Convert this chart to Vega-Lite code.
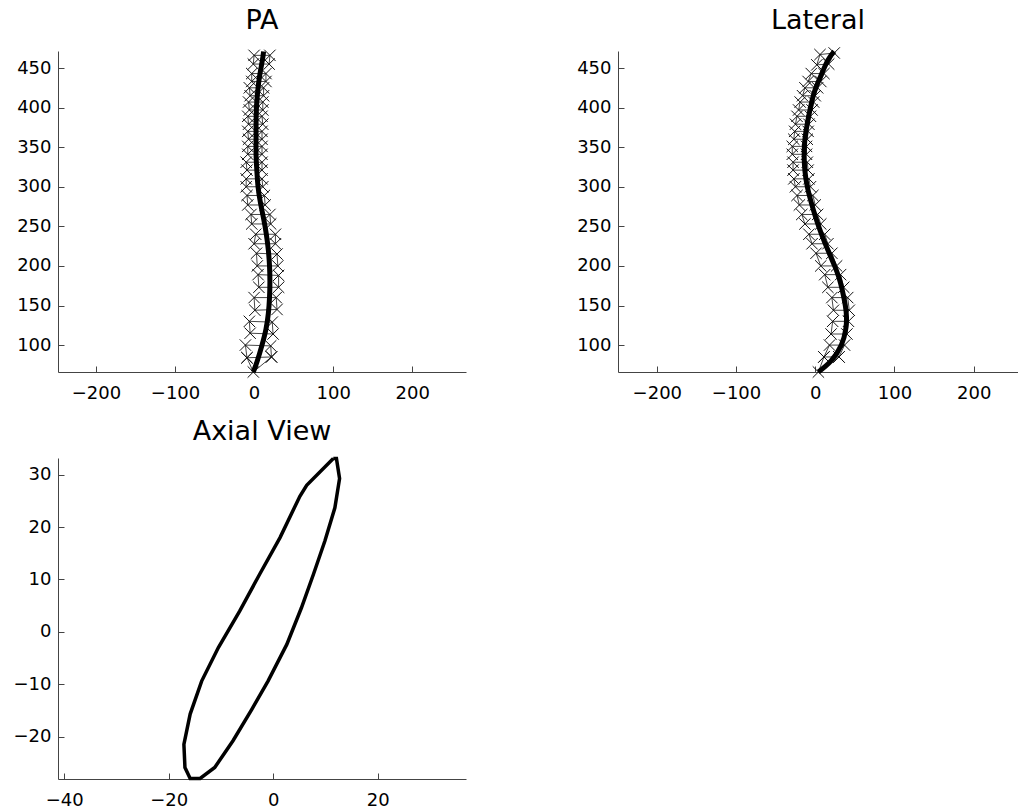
{
  "$schema": "https://vega.github.io/schema/vega-lite/v6.json",
  "background": "white",
  "padding": {"left": 13, "top": 7, "right": 0, "bottom": 0},
  "config": {
    "view": {"stroke": null},
    "font": "DejaVu Sans",
    "axis": {"grid": false, "domainColor": "#444444", "tickColor": "#444444", "tickSize": -6, "labelFont": "DejaVu Sans", "labelFontSize": 18, "labelColor": "black"},
    "axisX": {"labelPadding": 18},
    "axisY": {"labelPadding": 13},
    "title": {"font": "DejaVu Sans", "fontSize": 27, "fontWeight": "normal", "color": "black", "offset": 6}
  },
  "datasets": {
    "pa_curve": [
      {"y": 66, "x": -1}, {"y": 80, "x": 4}, {"y": 100, "x": 10}, {"y": 120, "x": 15}, {"y": 140, "x": 18}, {"y": 160, "x": 19.5}, {"y": 180, "x": 20}, {"y": 200, "x": 19.5}, {"y": 220, "x": 18}, {"y": 240, "x": 15.5}, {"y": 260, "x": 12}, {"y": 280, "x": 8}, {"y": 300, "x": 5}, {"y": 320, "x": 3.5}, {"y": 340, "x": 2.5}, {"y": 360, "x": 2.5}, {"y": 380, "x": 2.5}, {"y": 400, "x": 3}, {"y": 420, "x": 4.5}, {"y": 440, "x": 7}, {"y": 460, "x": 10.5}, {"y": 471, "x": 12}
    ],
    "lat_curve": [
      {"y": 66, "x": 4}, {"y": 80, "x": 20}, {"y": 100, "x": 33}, {"y": 120, "x": 38.5}, {"y": 135, "x": 39.5}, {"y": 150, "x": 38}, {"y": 170, "x": 34}, {"y": 185, "x": 30}, {"y": 200, "x": 24.5}, {"y": 220, "x": 16}, {"y": 240, "x": 8}, {"y": 260, "x": 1}, {"y": 280, "x": -5}, {"y": 300, "x": -10}, {"y": 320, "x": -13}, {"y": 340, "x": -14}, {"y": 360, "x": -13}, {"y": 380, "x": -10}, {"y": 400, "x": -6}, {"y": 420, "x": -1}, {"y": 440, "x": 7}, {"y": 460, "x": 16}, {"y": 471, "x": 24}
    ],
    "pa_pts": [
      {"v": 0, "k": 1, "x": -9, "y": 84}, {"v": 0, "k": 2, "x": -1, "y": 66}, {"v": 0, "k": 3, "x": 22, "y": 85},
      {"v": 1, "k": 1, "x": -11, "y": 100}, {"v": 1, "k": 2, "x": 21, "y": 99}, {"v": 1, "k": 3, "x": 22, "y": 85}, {"v": 1, "k": 4, "x": -9, "y": 84}, {"v": 1, "k": 5, "x": -11, "y": 100},
      {"v": 2, "k": 1, "x": -6, "y": 130}, {"v": 2, "k": 2, "x": 23, "y": 129}, {"v": 2, "k": 3, "x": 24, "y": 114}, {"v": 2, "k": 4, "x": -5, "y": 115}, {"v": 2, "k": 5, "x": -6, "y": 130},
      {"v": 3, "k": 1, "x": 0, "y": 160}, {"v": 3, "k": 2, "x": 28, "y": 160}, {"v": 3, "k": 3, "x": 29, "y": 145}, {"v": 3, "k": 4, "x": 1, "y": 144}, {"v": 3, "k": 5, "x": 0, "y": 160},
      {"v": 4, "k": 1, "x": 5, "y": 189}, {"v": 4, "k": 2, "x": 31, "y": 188}, {"v": 4, "k": 3, "x": 31, "y": 173}, {"v": 4, "k": 4, "x": 6, "y": 173}, {"v": 4, "k": 5, "x": 5, "y": 189},
      {"v": 5, "k": 1, "x": 3, "y": 216}, {"v": 5, "k": 2, "x": 29, "y": 215}, {"v": 5, "k": 3, "x": 30, "y": 200}, {"v": 5, "k": 4, "x": 4, "y": 200}, {"v": 5, "k": 5, "x": 3, "y": 216},
      {"v": 6, "k": 1, "x": 2, "y": 240}, {"v": 6, "k": 2, "x": 27, "y": 240}, {"v": 6, "k": 3, "x": 27, "y": 228}, {"v": 6, "k": 4, "x": 0, "y": 228}, {"v": 6, "k": 5, "x": 2, "y": 240},
      {"v": 7, "k": 1, "x": -4, "y": 265}, {"v": 7, "k": 2, "x": 20, "y": 265}, {"v": 7, "k": 3, "x": 21, "y": 253}, {"v": 7, "k": 4, "x": -3, "y": 253}, {"v": 7, "k": 5, "x": -4, "y": 265},
      {"v": 8, "k": 1, "x": -9, "y": 289}, {"v": 8, "k": 2, "x": 13, "y": 289}, {"v": 8, "k": 3, "x": 14, "y": 277}, {"v": 8, "k": 4, "x": -8, "y": 277}, {"v": 8, "k": 5, "x": -9, "y": 289},
      {"v": 9, "k": 1, "x": -10, "y": 310}, {"v": 9, "k": 2, "x": 10, "y": 310}, {"v": 9, "k": 3, "x": 11, "y": 300}, {"v": 9, "k": 4, "x": -10, "y": 300}, {"v": 9, "k": 5, "x": -10, "y": 310},
      {"v": 10, "k": 1, "x": -10, "y": 331}, {"v": 10, "k": 2, "x": 10, "y": 331}, {"v": 10, "k": 3, "x": 10, "y": 321}, {"v": 10, "k": 4, "x": -9, "y": 321}, {"v": 10, "k": 5, "x": -10, "y": 331},
      {"v": 11, "k": 1, "x": -8, "y": 351}, {"v": 11, "k": 2, "x": 10, "y": 351}, {"v": 11, "k": 3, "x": 10, "y": 341}, {"v": 11, "k": 4, "x": -8, "y": 341}, {"v": 11, "k": 5, "x": -8, "y": 351},
      {"v": 12, "k": 1, "x": -8, "y": 370}, {"v": 12, "k": 2, "x": 10, "y": 370}, {"v": 12, "k": 3, "x": 10, "y": 360}, {"v": 12, "k": 4, "x": -7, "y": 360}, {"v": 12, "k": 5, "x": -8, "y": 370},
      {"v": 13, "k": 1, "x": -8, "y": 389}, {"v": 13, "k": 2, "x": 10, "y": 389}, {"v": 13, "k": 3, "x": 11, "y": 379}, {"v": 13, "k": 4, "x": -7, "y": 379}, {"v": 13, "k": 5, "x": -8, "y": 389},
      {"v": 14, "k": 1, "x": -7, "y": 407}, {"v": 14, "k": 2, "x": 11, "y": 407}, {"v": 14, "k": 3, "x": 11, "y": 397}, {"v": 14, "k": 4, "x": -6, "y": 397}, {"v": 14, "k": 5, "x": -7, "y": 407},
      {"v": 15, "k": 1, "x": -6, "y": 425}, {"v": 15, "k": 2, "x": 12, "y": 425}, {"v": 15, "k": 3, "x": 12, "y": 415}, {"v": 15, "k": 4, "x": -5, "y": 415}, {"v": 15, "k": 5, "x": -6, "y": 425},
      {"v": 16, "k": 1, "x": -3, "y": 443}, {"v": 16, "k": 2, "x": 15, "y": 443}, {"v": 16, "k": 3, "x": 15, "y": 433}, {"v": 16, "k": 4, "x": -3, "y": 433}, {"v": 16, "k": 5, "x": -3, "y": 443},
      {"v": 17, "k": 1, "x": 0, "y": 466}, {"v": 17, "k": 2, "x": 20, "y": 466}, {"v": 17, "k": 3, "x": 19, "y": 455}, {"v": 17, "k": 4, "x": -1, "y": 455}, {"v": 17, "k": 5, "x": 0, "y": 466}
    ],
    "lat_pts": [
      {"v": 0, "k": 1, "x": 11, "y": 85}, {"v": 0, "k": 2, "x": 4, "y": 66}, {"v": 0, "k": 3, "x": 30, "y": 85},
      {"v": 1, "k": 1, "x": 18, "y": 100}, {"v": 1, "k": 2, "x": 37, "y": 100}, {"v": 1, "k": 3, "x": 30, "y": 85}, {"v": 1, "k": 4, "x": 11, "y": 85}, {"v": 1, "k": 5, "x": 18, "y": 100},
      {"v": 2, "k": 1, "x": 22, "y": 130}, {"v": 2, "k": 2, "x": 42, "y": 130}, {"v": 2, "k": 3, "x": 40, "y": 114}, {"v": 2, "k": 4, "x": 20, "y": 114}, {"v": 2, "k": 5, "x": 22, "y": 130},
      {"v": 3, "k": 1, "x": 21, "y": 160}, {"v": 3, "k": 2, "x": 41, "y": 160}, {"v": 3, "k": 3, "x": 43, "y": 144}, {"v": 3, "k": 4, "x": 23, "y": 144}, {"v": 3, "k": 5, "x": 21, "y": 160},
      {"v": 4, "k": 1, "x": 12, "y": 189}, {"v": 4, "k": 2, "x": 32, "y": 189}, {"v": 4, "k": 3, "x": 36, "y": 173}, {"v": 4, "k": 4, "x": 16, "y": 173}, {"v": 4, "k": 5, "x": 12, "y": 189},
      {"v": 5, "k": 1, "x": 1, "y": 216}, {"v": 5, "k": 2, "x": 21, "y": 216}, {"v": 5, "k": 3, "x": 27, "y": 200}, {"v": 5, "k": 4, "x": 7, "y": 200}, {"v": 5, "k": 5, "x": 1, "y": 216},
      {"v": 6, "k": 1, "x": -8, "y": 240}, {"v": 6, "k": 2, "x": 12, "y": 240}, {"v": 6, "k": 3, "x": 16, "y": 228}, {"v": 6, "k": 4, "x": -4, "y": 228}, {"v": 6, "k": 5, "x": -8, "y": 240},
      {"v": 7, "k": 1, "x": -17, "y": 265}, {"v": 7, "k": 2, "x": 3, "y": 265}, {"v": 7, "k": 3, "x": 7, "y": 253}, {"v": 7, "k": 4, "x": -13, "y": 253}, {"v": 7, "k": 5, "x": -17, "y": 265},
      {"v": 8, "k": 1, "x": -23, "y": 289}, {"v": 8, "k": 2, "x": -3, "y": 289}, {"v": 8, "k": 3, "x": 0, "y": 277}, {"v": 8, "k": 4, "x": -20, "y": 277}, {"v": 8, "k": 5, "x": -23, "y": 289},
      {"v": 9, "k": 1, "x": -27, "y": 310}, {"v": 9, "k": 2, "x": -8, "y": 310}, {"v": 9, "k": 3, "x": -6, "y": 300}, {"v": 9, "k": 4, "x": -25, "y": 300}, {"v": 9, "k": 5, "x": -27, "y": 310},
      {"v": 10, "k": 1, "x": -28, "y": 331}, {"v": 10, "k": 2, "x": -10, "y": 331}, {"v": 10, "k": 3, "x": -9, "y": 321}, {"v": 10, "k": 4, "x": -28, "y": 321}, {"v": 10, "k": 5, "x": -28, "y": 331},
      {"v": 11, "k": 1, "x": -29, "y": 351}, {"v": 11, "k": 2, "x": -11, "y": 351}, {"v": 11, "k": 3, "x": -11, "y": 341}, {"v": 11, "k": 4, "x": -29, "y": 341}, {"v": 11, "k": 5, "x": -29, "y": 351},
      {"v": 12, "k": 1, "x": -26, "y": 370}, {"v": 12, "k": 2, "x": -9, "y": 370}, {"v": 12, "k": 3, "x": -10, "y": 360}, {"v": 12, "k": 4, "x": -27, "y": 360}, {"v": 12, "k": 5, "x": -26, "y": 370},
      {"v": 13, "k": 1, "x": -23, "y": 389}, {"v": 13, "k": 2, "x": -6, "y": 389}, {"v": 13, "k": 3, "x": -8, "y": 379}, {"v": 13, "k": 4, "x": -25, "y": 379}, {"v": 13, "k": 5, "x": -23, "y": 389},
      {"v": 14, "k": 1, "x": -19, "y": 407}, {"v": 14, "k": 2, "x": -2, "y": 407}, {"v": 14, "k": 3, "x": -4, "y": 397}, {"v": 14, "k": 4, "x": -21, "y": 397}, {"v": 14, "k": 5, "x": -19, "y": 407},
      {"v": 15, "k": 1, "x": -13, "y": 425}, {"v": 15, "k": 2, "x": 3, "y": 425}, {"v": 15, "k": 3, "x": 0, "y": 415}, {"v": 15, "k": 4, "x": -16, "y": 415}, {"v": 15, "k": 5, "x": -13, "y": 425},
      {"v": 16, "k": 1, "x": -5, "y": 443}, {"v": 16, "k": 2, "x": 11, "y": 443}, {"v": 16, "k": 3, "x": 7, "y": 433}, {"v": 16, "k": 4, "x": -9, "y": 433}, {"v": 16, "k": 5, "x": -5, "y": 443},
      {"v": 17, "k": 1, "x": 6, "y": 467}, {"v": 17, "k": 2, "x": 24, "y": 469}, {"v": 17, "k": 3, "x": 17, "y": 455}, {"v": 17, "k": 4, "x": 2, "y": 454}, {"v": 17, "k": 5, "x": 6, "y": 467}
    ],
    "axial": [
      {"i": 1, "x": 11.5, "y": 33.1}, {"i": 2, "x": 12.1, "y": 33.1}, {"i": 3, "x": 12.7, "y": 29.3}, {"i": 4, "x": 11.8, "y": 23.7}, {"i": 5, "x": 9.9, "y": 17.4}, {"i": 6, "x": 7.7, "y": 11.0}, {"i": 7, "x": 5.4, "y": 4.6}, {"i": 8, "x": 2.6, "y": -2.4}, {"i": 9, "x": -1.0, "y": -9.4}, {"i": 10, "x": -4.1, "y": -14.8}, {"i": 11, "x": -7.7, "y": -20.8}, {"i": 12, "x": -11.2, "y": -25.9}, {"i": 13, "x": -14.0, "y": -28.0}, {"i": 14, "x": -15.9, "y": -28.0}, {"i": 15, "x": -16.9, "y": -25.9}, {"i": 16, "x": -17.1, "y": -21.5}, {"i": 17, "x": -15.9, "y": -15.7}, {"i": 18, "x": -13.7, "y": -9.4}, {"i": 19, "x": -10.5, "y": -3.0}, {"i": 20, "x": -6.4, "y": 4.0}, {"i": 21, "x": -2.6, "y": 11.0}, {"i": 22, "x": 1.3, "y": 18.0}, {"i": 23, "x": 5.1, "y": 25.9}, {"i": 24, "x": 6.4, "y": 28.0}, {"i": 25, "x": 11.5, "y": 33.1}
    ]
  },
  "vconcat": [
    {
      "hconcat": [
        {
          "width": 408,
          "height": 321,
          "title": "PA",
          "encoding": {
            "x": {"field": "x", "type": "quantitative", "title": null, "scale": {"domain": [-248, 268], "nice": false, "zero": false}, "axis": {"values": [-200, -100, 0, 100, 200]}},
            "y": {"field": "y", "type": "quantitative", "title": null, "scale": {"domain": [66, 471.5], "nice": false, "zero": false}, "axis": {"values": [100, 150, 200, 250, 300, 350, 400, 450]}}
          },
          "layer": [
            {"data": {"name": "pa_pts"}, "mark": {"type": "line", "stroke": "#333333", "strokeWidth": 0.9}, "encoding": {"detail": {"field": "v"}, "order": {"field": "k"}}},
            {"data": {"name": "pa_pts"}, "transform": [{"filter": "datum.k < 5"}], "mark": {"type": "point", "shape": "M-1,-1L1,1M-1,1L1,-1", "size": 130, "stroke": "#111111", "strokeWidth": 1, "filled": false, "opacity": 1}},
            {"data": {"name": "pa_curve"}, "mark": {"type": "line", "stroke": "black", "strokeWidth": 5, "interpolate": "natural"}, "encoding": {"order": {"field": "y"}}}
          ]
        },
        {
          "width": 400,
          "height": 321,
          "title": "Lateral",
          "encoding": {
            "x": {"field": "x", "type": "quantitative", "title": null, "scale": {"domain": [-249, 256], "nice": false, "zero": false}, "axis": {"values": [-200, -100, 0, 100, 200]}},
            "y": {"field": "y", "type": "quantitative", "title": null, "scale": {"domain": [66, 471.5], "nice": false, "zero": false}, "axis": {"values": [100, 150, 200, 250, 300, 350, 400, 450]}}
          },
          "layer": [
            {"data": {"name": "lat_pts"}, "mark": {"type": "line", "stroke": "#333333", "strokeWidth": 0.9}, "encoding": {"detail": {"field": "v"}, "order": {"field": "k"}}},
            {"data": {"name": "lat_pts"}, "transform": [{"filter": "datum.k < 5"}], "mark": {"type": "point", "shape": "M-1,-1L1,1M-1,1L1,-1", "size": 130, "stroke": "#111111", "strokeWidth": 1, "filled": false, "opacity": 1}},
            {"data": {"name": "lat_curve"}, "mark": {"type": "line", "stroke": "black", "strokeWidth": 5, "interpolate": "natural"}, "encoding": {"order": {"field": "y"}}}
          ]
        }
      ],
      "spacing": 110
    },
    {
      "width": 408,
      "height": 321,
      "title": "Axial View",
      "data": {"name": "axial"},
      "mark": {"type": "line", "stroke": "black", "strokeWidth": 3.5, "strokeJoin": "miter"},
      "encoding": {
        "x": {"field": "x", "type": "quantitative", "title": null, "scale": {"domain": [-41.2, 36.9], "nice": false, "zero": false}, "axis": {"values": [-40, -20, 0, 20]}},
        "y": {"field": "y", "type": "quantitative", "title": null, "scale": {"domain": [-28.1, 33.2], "nice": false, "zero": false}, "axis": {"values": [-20, -10, 0, 10, 20, 30]}},
        "order": {"field": "i"}
      }
    }
  ],
  "spacing": 15
}
